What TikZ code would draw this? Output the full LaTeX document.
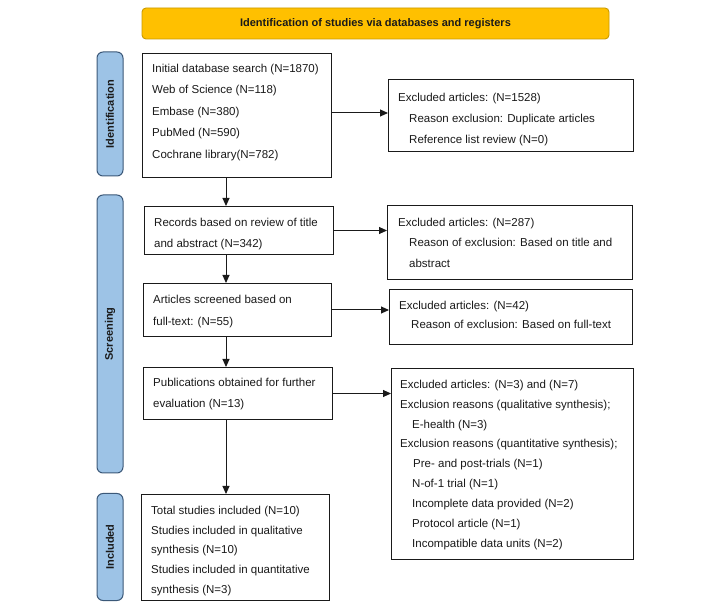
\documentclass[tikz,border=0pt]{standalone}
\usepackage{fontspec}
\setmainfont{Liberation Sans}
\usetikzlibrary{arrows.meta,calc}
\definecolor{gold}{HTML}{FFC000}
\definecolor{goldline}{HTML}{C99A00}
\definecolor{sideblue}{HTML}{9DC3E6}
\definecolor{sideline}{HTML}{3B5878}
\definecolor{ink}{HTML}{1A1A1A}
\begin{document}
\begin{tikzpicture}[x={(1pt,0pt)},y={(0pt,-1pt)},
  box/.style={draw=ink, line width=1pt, fill=white, inner sep=0pt, anchor=north west},
  txt/.style={anchor=north west, inner sep=0pt, align=left, text=ink},
  side/.style={draw=sideline, fill=sideblue, rounded corners=6pt, line width=1pt, inner sep=0pt,
    minimum height=26pt, rotate=90, font=\bfseries\fontsize{11}{13}\selectfont, text=ink},
  arr/.style={draw=ink, line width=1pt, -{Triangle[length=8pt,width=7pt]}}]
\useasboundingbox (0,0) rectangle (726,609);
% banner
\node[draw=goldline, fill=gold, rounded corners=4pt, line width=0.9pt, minimum width=467pt, minimum height=31pt,
  inner sep=0pt, font=\bfseries\fontsize{11}{13}\selectfont, text=ink] (banner) at (375.5,23.5)
  {Identification of studies via databases and registers};
% side labels
\node[side, minimum width=124pt] (sid) at (110,114) {Identification};
\node[side, minimum width=278pt] (sscr) at (110,334) {Screening};
\node[side, minimum width=107pt] (sinc) at (110,547) {Included};
% boxes
\node[box, minimum width=189pt, minimum height=124pt] (b1) at (142,53) {};
\node[box, minimum width=245pt, minimum height=72pt] (e1) at (388,79) {};
\node[box, minimum width=189pt, minimum height=48pt] (b2) at (144,206) {};
\node[box, minimum width=245pt, minimum height=74pt] (e2) at (387,205) {};
\node[box, minimum width=188pt, minimum height=53pt] (b3) at (143,283) {};
\node[box, minimum width=243pt, minimum height=55pt] (e3) at (389,289) {};
\node[box, minimum width=189pt, minimum height=52pt] (b4) at (143,367) {};
\node[box, minimum width=242pt, minimum height=191pt] (e4) at (391,368) {};
\node[box, minimum width=188pt, minimum height=106pt] (b5) at (141,494) {};
% texts
\node[txt, font=\fontsize{11.5}{21.5}\selectfont] (t1) at (152,62)
 {\rule{0pt}{10pt}Initial database search (N=1870)\\Web of Science (N=118)\\Embase (N=380)\\PubMed (N=590)\\Cochrane library(N=782)};
\node[txt, font=\fontsize{11.5}{21}\selectfont] (te1) at (398,91)
 {\rule{0pt}{10pt}Excluded articles: (N=1528)\\\hspace*{11pt}Reason exclusion: Duplicate articles\\\hspace*{11pt}Reference list review (N=0)};
\node[txt, font=\fontsize{11.5}{21}\selectfont] (t2) at (154,216)
 {\rule{0pt}{10pt}Records based on review of title\\and abstract (N=342)};
\node[txt, font=\fontsize{11.5}{20.5}\selectfont] (te2) at (398,216)
 {\rule{0pt}{10pt}Excluded articles: (N=287)\\\hspace*{11pt}Reason of exclusion: Based on title and\\\hspace*{11pt}abstract};
\node[txt, font=\fontsize{11.5}{22}\selectfont] (t3) at (153,293)
 {\rule{0pt}{10pt}Articles screened based on\\full-text: (N=55)};
\node[txt, font=\fontsize{11.5}{19.5}\selectfont] (te3) at (399,299)
 {\rule{0pt}{10pt}Excluded articles: (N=42)\\\hspace*{12pt}Reason of exclusion: Based on full-text};
\node[txt, font=\fontsize{11.5}{21}\selectfont] (t4) at (153,376)
 {\rule{0pt}{10pt}Publications obtained for further\\evaluation (N=13)};
\node[txt, font=\fontsize{11.5}{19.9}\selectfont] (te4) at (400,378)
 {\rule{0pt}{10pt}Excluded articles: (N=3) and (N=7)\\Exclusion reasons (qualitative synthesis);\\\hspace*{12pt}E-health (N=3)\\Exclusion reasons (quantitative synthesis);\\\hspace*{13pt}Pre- and post-trials (N=1)\\\hspace*{12pt}N-of-1 trial (N=1)\\\hspace*{12pt}Incomplete data provided (N=2)\\\hspace*{12pt}Protocol article (N=1)\\\hspace*{12pt}Incompatible data units (N=2)};
\node[txt, font=\fontsize{11.5}{19.8}\selectfont] (t5) at (151,504)
 {\rule{0pt}{10pt}Total studies included (N=10)\\Studies included in qualitative\\synthesis (N=10)\\Studies included in quantitative\\synthesis (N=3)};
% connectors
\draw[arr] (b1.south -| 226,0) -- (b2.north -| 226,0);
\draw[arr] (b2.south -| 226,0) -- (b3.north -| 226,0);
\draw[arr] (b3.south -| 226,0) -- (b4.north -| 226,0);
\draw[arr] (b4.south -| 226,0) -- (b5.north -| 226,0);
\draw[arr] (b1.east |- 0,113) -- (e1.west |- 0,113);
\draw[arr] (b2.east) -- (b2.east -| e2.west);
\draw[arr] (b3.east) -- (b3.east -| e3.west);
\draw[arr] (b4.east) -- (b4.east -| e4.west);
\end{tikzpicture}
\end{document}
